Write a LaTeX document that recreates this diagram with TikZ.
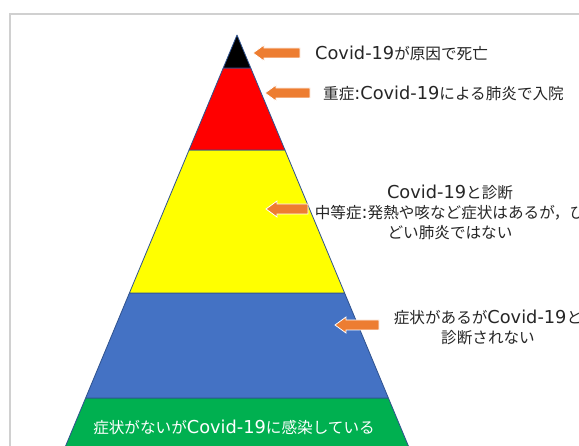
\documentclass[tikz,border=0pt]{standalone}
\usepackage{fontspec}
\setmainfont{Noto Sans CJK JP}
\newfontfamily\latinfnt[Scale=1.14]{DejaVu Sans}
\newcommand\cvd{{\latinfnt Covid-19}}
\newcommand\cln{{\latinfnt :}}
\definecolor{frameg}{HTML}{D0D0D0}
\definecolor{edgeb}{HTML}{2F528F}
\definecolor{lyred}{HTML}{FF0000}
\definecolor{lyyel}{HTML}{FFFF00}
\definecolor{lyblue}{HTML}{4472C4}
\definecolor{lygreen}{HTML}{00B050}
\definecolor{arrorange}{HTML}{ED7D31}
\definecolor{txt}{HTML}{262626}
\tikzset{
  layer/.style={draw=edgeb, line width=0.8pt, line join=round},
  blockarr/.style={fill=arrorange, draw=white, line width=0.8pt, line join=miter},
  lbl/.style={text=txt, font=\fontsize{15.6}{20}\selectfont, inner sep=0pt, align=center},
}
\newcommand\pyr[1]{({237-0.417*(#1-35)},#1)}
\newcommand\pyrr[1]{({237+0.417*(#1-35)},#1)}
\newcommand\blockarrow[3]{% tip x, tail x, y
  \path[blockarr] (#1,#3) -- ({#1+11},{#3-8}) -- ({#1+11},{#3-5}) -- (#2,{#3-5}) -- (#2,{#3+5}) -- ({#1+11},{#3+5}) -- ({#1+11},{#3+8}) -- cycle;}
\begin{document}
\begin{tikzpicture}[x=1pt,y=-1pt]
\useasboundingbox (0,0) rectangle (579,446);
\fill[white] (0,0) rectangle (579,446);
\clip (0,0) rectangle (579,446);
% frame
\draw[frameg, line width=1.5pt] (10,470) |- (620,14);
% pyramid layers
\path[layer, fill=lygreen] \pyr{398} -- \pyr{470} -- \pyrr{470} -- \pyrr{398} -- cycle;
\path[layer, fill=lyblue] \pyr{293} -- \pyr{398} -- \pyrr{398} -- \pyrr{293} -- cycle;
\path[layer, fill=lyyel] \pyr{150} -- \pyr{293} -- \pyrr{293} -- \pyrr{150} -- cycle;
\path[layer, fill=lyred] \pyr{68} -- \pyr{150} -- \pyrr{150} -- \pyrr{68} -- cycle;
\path[layer, fill=black] (237,35) -- \pyr{68} -- \pyrr{68} -- cycle;
% arrows
\blockarrow{253}{300}{53}
\blockarrow{265}{310}{93}
\blockarrow{266}{308}{209}
\blockarrow{335}{379}{325}
% labels
\node[lbl, anchor=west] (t1) at (315,53) {\cvd が原因で死亡};
\node[lbl, anchor=west] (t2) at (323,93) {重症\cln\cvd による肺炎で入院};
\node[lbl] (t3) at (450,212) {\cvd と診断\\中等症\cln 発熱や咳など症状はあるが，ひ\\どい肺炎ではない};
\node[lbl] (t4) at (488,327.5) {症状があるが\cvd と\\診断されない};
\node[lbl, text=white] (t5) at (234,427) {症状がないが\cvd に感染している};
\end{tikzpicture}
\end{document}
